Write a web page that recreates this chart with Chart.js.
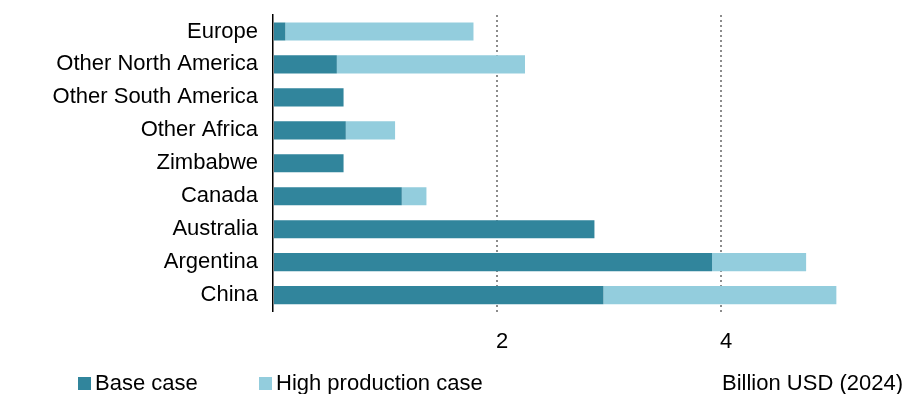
<!DOCTYPE html>
<html>
<head>
<meta charset="utf-8">
<script src="https://cdn.jsdelivr.net/npm/chart.js@4.4.0/dist/chart.umd.min.js"></script>
<style>
    html, body { margin: 0; padding: 0; background: #fff; }
    #wrap { width: 906px; height: 394px; position: relative; }
</style>
</head>
<body>
<div id="wrap"><canvas id="chart"></canvas></div>
<script>
// data
const regions = ['Europe', 'Other North America', 'Other South America', 'Other Africa',
    'Zimbabwe', 'Canada', 'Australia', 'Argentina', 'China'];
const baseCase = [0.11, 0.57, 0.63, 0.65, 0.63, 1.15, 2.87, 3.92, 2.95];
// extra on top of the base case
const highExtra = [1.68, 1.68, 0, 0.44, 0, 0.22, 0, 0.84, 2.08];
const xTickLabels = [2, 4];
const unitLabel = 'Billion USD (2024)';

const FONT = 'Arial, "Liberation Sans", sans-serif';
const BASE_COLOR = '#31859c';
const HIGH_COLOR = '#93cddd';

// legend + unit text along the bottom row
const bottomRow = {
    id: 'bottomRow',
    afterDraw(chart) {
        const ctx = chart.ctx;
        const y = 384;
        const items = [
            { x: 78, ds: chart.data.datasets[0] },
            { x: 259, ds: chart.data.datasets[1] }
        ];
        ctx.save();
        ctx.font = '22px ' + FONT;
        ctx.textBaseline = 'middle';
        items.forEach(it => {
            ctx.fillStyle = it.ds.backgroundColor;
            ctx.fillRect(it.x, y - 7, 13, 13);
            ctx.fillStyle = '#000';
            ctx.textAlign = 'left';
            ctx.fillText(it.ds.label, it.x + 17, y);
        });
        ctx.textAlign = 'right';
        ctx.fillText(unitLabel, 903, y);
        ctx.restore();
    }
};

new Chart(document.getElementById('chart'), {
    type: 'bar',
    data: {
        labels: regions,
        datasets: [
            { label: 'Base case', data: baseCase, backgroundColor: BASE_COLOR,
              barPercentage: 0.55, categoryPercentage: 1 },
            { label: 'High production case', data: highExtra, backgroundColor: HIGH_COLOR,
              barPercentage: 0.55, categoryPercentage: 1 }
        ]
    },
    options: {
        indexAxis: 'y',
        responsive: true,
        maintainAspectRatio: false,
        animation: false,
        layout: { padding: { left: 0, right: 17, top: 15, bottom: 22 } },
        plugins: {
            legend: { display: false },
            tooltip: { enabled: false }
        },
        scales: {
            x: {
                type: 'linear',
                stacked: true,
                min: 0,
                max: 5.5,
                ticks: {
                    stepSize: 2,
                    includeBounds: false,
                    callback: v => xTickLabels.includes(v) ? v : '',
                    font: { family: FONT, size: 22 },
                    color: '#000',
                    padding: 17,
                    labelOffset: 5,
                    maxRotation: 0
                },
                grid: {
                    color: c => (c.tick && xTickLabels.includes(c.tick.value)) ? '#8c8c8c' : 'transparent',
                    lineWidth: 2,
                    drawTicks: false
                },
                border: { display: false, dash: [2, 3] }
            },
            y: {
                stacked: true,
                grid: { display: false, drawTicks: false },
                border: { display: true, color: '#000', width: 1.5 },
                ticks: {
                    font: { family: FONT, size: 22 },
                    color: '#000',
                    padding: 15
                },
                afterFit: scale => {
                    scale.width = 273;
                    scale.paddingTop = 0;
                    scale.paddingBottom = 0;
                }
            }
        }
    },
    plugins: [bottomRow]
});
</script>
</body>
</html>
